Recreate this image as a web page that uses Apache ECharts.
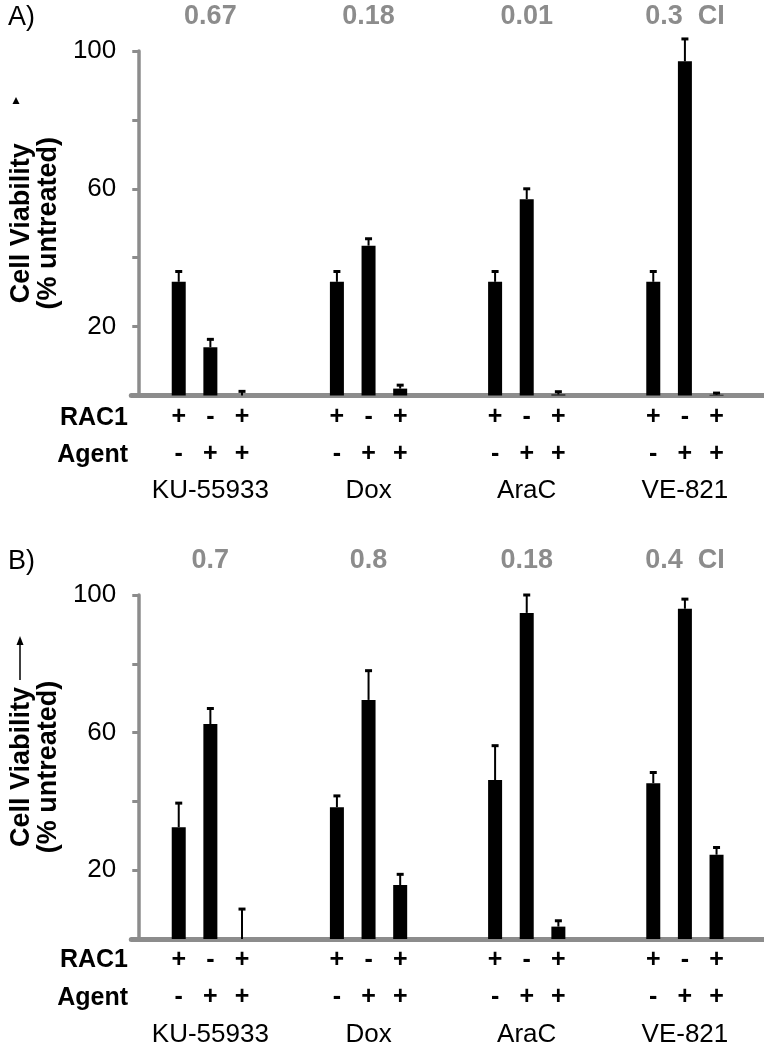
<!DOCTYPE html>
<html lang="en">
<head>
    <meta charset="UTF-8">
    <title>Cell viability</title>
    <script src="https://cdn.jsdelivr.net/npm/echarts@6/dist/echarts.min.js"></script>
    <style>
        body { margin: 0; background: #fff; }
    </style>
</head>
<body>
<div id="main" style="width: 764px; height: 1050px;"></div>
<script type="text/javascript">
    // groups and +/- rows
    var groups = ['KU-55933', 'Dox', 'AraC', 'VE-821'];
    var rac1 = ['+', '-', '+'];
    var agent = ['-', '+', '+'];
    var yTicks = [20, 60, 100];

    // panel A
    var ciA = ['0.67', '0.18', '0.01', '0.3'];
    var viabA = [33, 14, 0, 33, 43.5, 2, 33, 57, 0.3, 33, 97, 0.2];
    var errA = [3, 2.3, 1.2, 3, 2, 1, 3, 3, 0.8, 3, 6.5, 0.5];

    // panel B
    var ciB = ['0.7', '0.8', '0.18', '0.4'];
    var viabB = [32.5, 62.5, 0, 38.3, 69.5, 15.7, 46.2, 94.8, 3.6, 45.3, 96, 24.5];
    var errB = [7, 4.5, 8.7, 3.3, 8.5, 3.1, 10, 5.2, 1.7, 3.1, 2.8, 2.1];

    var FONT = 'Liberation Sans';
    var GRAY = '#8c8c8c';

    // 5 slots per group: gap, 3 bars, gap
    var nSlots = 20;
    var slots = [];
    for (var i = 0; i < nSlots; i++) slots.push(i);
    function slotOf(g, b) { return g * 5 + b + 1; }

    function barData(vals) {
        var out = [];
        for (var i = 0; i < nSlots; i++) out.push(null);
        for (var g = 0; g < groups.length; g++)
            for (var b = 0; b < 3; b++) out[slotOf(g, b)] = vals[g * 3 + b];
        return out;
    }
    function errData(vals, errs) {
        var out = [];
        for (var g = 0; g < groups.length; g++)
            for (var b = 0; b < 3; b++) {
                var k = g * 3 + b;
                out.push([slotOf(g, b), vals[k], vals[k] + errs[k]]);
            }
        return out;
    }
    function bottomLabel(v, idx) {
        var g = Math.floor(idx / 5), b = idx % 5 - 1;
        if (b < 0 || b > 2 || g >= groups.length) return '';
        var s = '{pm|' + rac1[b] + '}\n{pm|' + agent[b] + '}';
        if (b === 1) s += '\n{g|' + groups[g] + '}';
        return s;
    }
    function topLabel(ci) {
        return function (v, idx) {
            var g = Math.floor(idx / 5), b = idx % 5 - 1;
            if (b !== 1 || g >= ci.length) return '';
            return g === ci.length - 1 ? ci[g] + '  CI' : ci[g];
        };
    }

    function errRender(params, api) {
        var base = api.coord([api.value(0), api.value(1)]);
        var top = api.coord([api.value(0), api.value(2)]);
        return {
            type: 'group',
            children: [
                {type: 'line', shape: {x1: base[0], y1: base[1], x2: base[0], y2: top[1]},
                    style: {stroke: '#000', lineWidth: 2}},
                {type: 'line', shape: {x1: base[0] - 3.5, y1: top[1], x2: base[0] + 3.5, y2: top[1]},
                    style: {stroke: '#000', lineWidth: 3}}
            ]
        };
    }

    var grids = [
        {left: 129, right: -12.6, top: 51, height: 344.5},
        {left: 129, right: -12.6, top: 595, height: 344}
    ];

    var xAxes = [], yAxes = [];
    [ciA, ciB].forEach(function (ci, gi) {
        xAxes.push({
            type: 'category', gridIndex: gi, data: slots,
            axisLine: {lineStyle: {color: GRAY, width: 5}},
            axisTick: {show: false},
            axisLabel: {
                interval: 0, margin: 3, formatter: bottomLabel,
                rich: {
                    pm: {fontFamily: FONT, fontSize: 25, fontWeight: 'bold', color: '#000', lineHeight: 37},
                    g: {fontFamily: FONT, fontSize: 26, color: '#000', lineHeight: 37}
                }
            }
        });
        xAxes.push({
            type: 'category', gridIndex: gi, data: slots, position: 'top',
            axisLine: {show: false}, axisTick: {show: false},
            axisLabel: {
                interval: 0, margin: 21, formatter: topLabel(ci),
                fontFamily: FONT, fontSize: 27, fontWeight: 'bold', color: GRAY
            }
        });
        yAxes.push({
            type: 'value', gridIndex: gi, min: 0, max: 100, interval: 20, offset: -7,
            splitLine: {show: false},
            axisLine: {show: true, lineStyle: {color: GRAY, width: 3.5}},
            axisTick: {show: true, length: 6, lineStyle: {color: GRAY, width: 3}},
            axisLabel: {
                margin: 22, fontFamily: FONT, fontSize: 26, color: '#000',
                formatter: function (v) { return yTicks.indexOf(v) >= 0 ? v : ''; }
            },
            name: 'Cell Viability\n(% untreated)', nameLocation: 'middle', nameGap: 76, nameRotate: 90,
            nameTextStyle: {fontFamily: FONT, fontSize: 27, fontWeight: 'bold', color: '#000', lineHeight: 27}
        });
    });

    var series = [];
    [[viabA, errA], [viabB, errB]].forEach(function (p, gi) {
        series.push({
            type: 'bar', xAxisIndex: gi * 2, yAxisIndex: gi,
            data: barData(p[0]), barWidth: 14,
            itemStyle: {color: '#000'}, silent: true
        });
        series.push({
            type: 'custom', xAxisIndex: gi * 2, yAxisIndex: gi, z: 3,
            data: errData(p[0], p[1]), encode: {x: 0, y: 2},
            renderItem: errRender, silent: true
        });
    });

    var graphic = [
        {type: 'text', x: 8, y: 18, style: {text: 'A)', fontFamily: FONT, fontSize: 27, fill: '#000', textVerticalAlign: 'middle'}},
        {type: 'text', x: 8, y: 562, style: {text: 'B)', fontFamily: FONT, fontSize: 27, fill: '#000', textVerticalAlign: 'middle'}},
        {type: 'text', x: 128, y: 418, style: {text: 'RAC1', fontFamily: FONT, fontSize: 25, fontWeight: 'bold', fill: '#000', textAlign: 'right', textVerticalAlign: 'middle'}},
        {type: 'text', x: 128, y: 455, style: {text: 'Agent', fontFamily: FONT, fontSize: 25, fontWeight: 'bold', fill: '#000', textAlign: 'right', textVerticalAlign: 'middle'}},
        {type: 'text', x: 128, y: 960, style: {text: 'RAC1', fontFamily: FONT, fontSize: 25, fontWeight: 'bold', fill: '#000', textAlign: 'right', textVerticalAlign: 'middle'}},
        {type: 'text', x: 128, y: 998, style: {text: 'Agent', fontFamily: FONT, fontSize: 25, fontWeight: 'bold', fill: '#000', textAlign: 'right', textVerticalAlign: 'middle'}},
        // arrows next to the axis title
        {type: 'polygon', shape: {points: [[16, 97], [12.5, 104], [19.5, 104]]}, style: {fill: '#000'}},
        {type: 'line', shape: {x1: 20, y1: 680, x2: 20, y2: 644}, style: {stroke: '#000', lineWidth: 1.5}},
        {type: 'polygon', shape: {points: [[20, 636], [16.5, 645], [23.5, 645]]}, style: {fill: '#000'}}
    ];

    var option = {
        animation: false,
        grid: grids,
        xAxis: xAxes,
        yAxis: yAxes,
        series: series,
        graphic: graphic
    };

    var myChart = echarts.init(document.getElementById('main'));
    myChart.setOption(option);
</script>
</body>
</html>
